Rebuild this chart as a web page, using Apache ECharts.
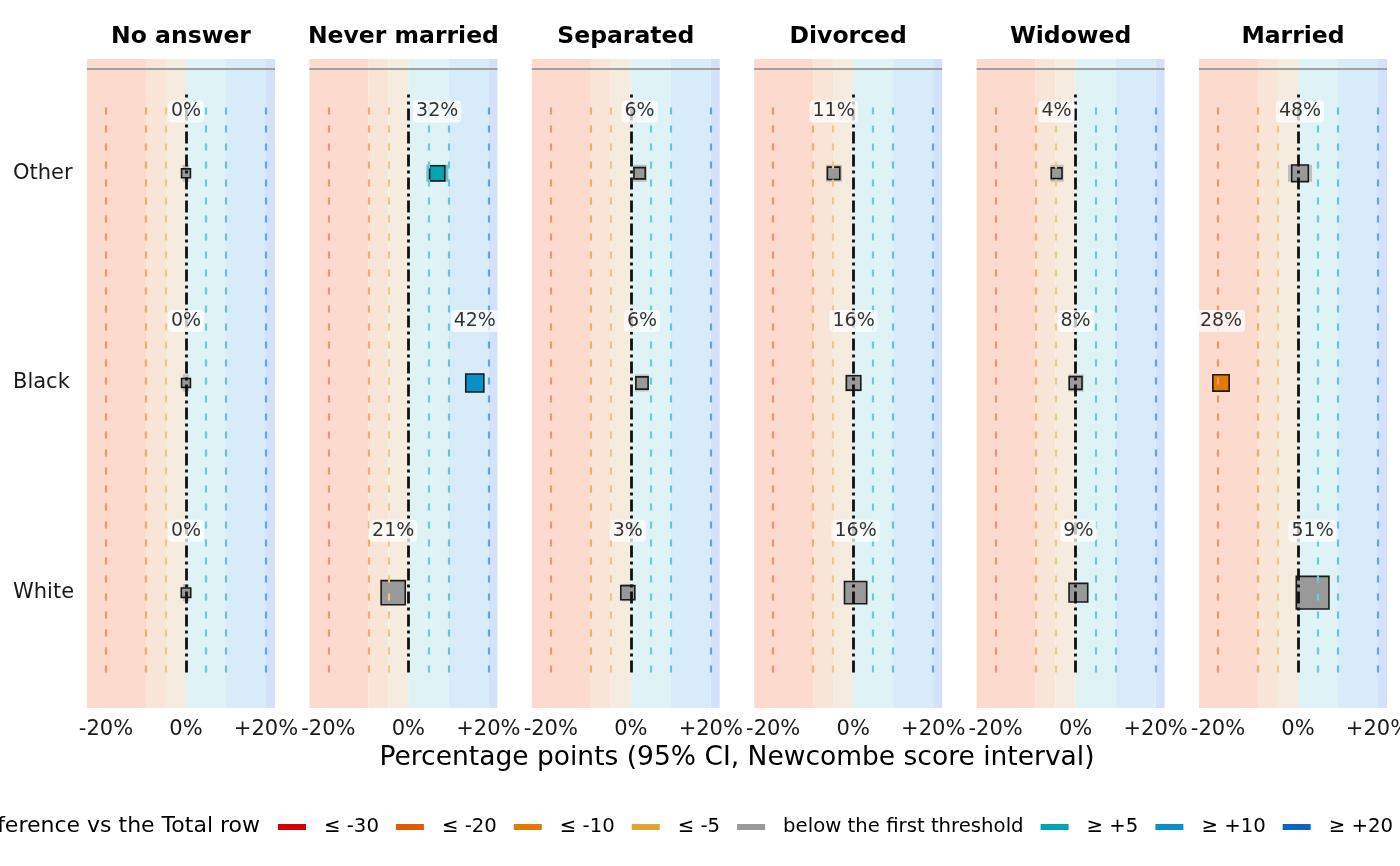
<!DOCTYPE html>
<html>
<head>
<meta charset="utf-8">
<title>Marital status by race</title>
<script src="https://cdn.jsdelivr.net/npm/echarts@6/dist/echarts.min.js"></script>
<style>
html,body{margin:0;padding:0;background:#fff;overflow:hidden;}
#chart{width:1400px;height:866px;display:block;}
</style>
</head>
<body>
<div id="chart"></div>
<script>
// facets and rows (rows listed bottom to top)
var panels = ['No answer','Never married','Separated','Divorced','Widowed','Married'];
var races = ['White','Black','Other'];

// share of the row in each cell, % (White, Black, Other)
var shareNoAnswer = [0,0,0];
var shareNever    = [21,42,32];
var shareSep      = [3,6,6];
var shareDiv      = [16,16,11];
var shareWid      = [9,8,4];
var shareMarried  = [51,28,48];

// difference vs the Total row, percentage points
var diffNoAnswer = [0,0,0];
var diffNever    = [-3.8,16.6,7.2];
var diffSep      = [-0.75,2.8,2.2];
var diffDiv      = [0.6,0.1,-4.9];
var diffWid      = [0.7,0,-4.75];
var diffMarried  = [3.65,-19.25,0.5];

// 95% CI bounds (Newcombe)
var ciLoNoAnswer = [-0.8,-0.8,-0.8], ciHiNoAnswer = [0.8,0.8,0.8];
var ciLoNever    = [-4.9,14.8,4.5],  ciHiNever    = [-2.9,18.4,10];
var ciLoSep      = [-2.2,1,0.5],     ciHiSep      = [0.7,4.5,4];
var ciLoDiv      = [-0.5,-2,-6.8],   ciHiDiv      = [1.6,2,-2.8];
var ciLoWid      = [0,-1.75,-6.25],  ciHiWid      = [1.4,2,-3];
var ciLoMarried  = [2.5,-21,-2.5],   ciHiMarried  = [4.8,-17.5,3.5];

// cell counts (marker size)
var nNoAnswer = [13,2,2];
var nNever    = [3478,1305,633];
var nSep      = [437,196,110];
var nDiv      = [2676,495,212];
var nWid      = [1475,262,70];
var nMarried  = [8316,869,932];

var xTicks = [-20,0,20];
var legendNames = ['\u2264 -30','\u2264 -20','\u2264 -10','\u2264 -5','below the first threshold','\u2265 +5','\u2265 +10','\u2265 +20'];
var legendColors = ['#d80000','#e05a00','#e07b00','#e0a432','#999999','#00a5ae','#0a8fc9','#0a66c2'];

var shares = [shareNoAnswer,shareNever,shareSep,shareDiv,shareWid,shareMarried];
var diffs  = [diffNoAnswer,diffNever,diffSep,diffDiv,diffWid,diffMarried];
var ciLo   = [ciLoNoAnswer,ciLoNever,ciLoSep,ciLoDiv,ciLoWid,ciLoMarried];
var ciHi   = [ciHiNoAnswer,ciHiNever,ciHiSep,ciHiDiv,ciHiWid,ciHiMarried];
var counts = [nNoAnswer,nNever,nSep,nDiv,nWid,nMarried];

var XMIN = -24.75, XMAX = 22.25;
var YMIN = -0.55, YMAX = 2.545;
var FONT = 'DejaVu Sans';

function colorFor(d){
	if(d<=-30) return legendColors[0];
	if(d<=-20) return legendColors[1];
	if(d<=-10) return legendColors[2];
	if(d<=-5) return legendColors[3];
	if(d>=20) return legendColors[7];
	if(d>=10) return legendColors[6];
	if(d>=5) return legendColors[5];
	return legendColors[4];
}
function sizeFor(n){ return 8.5+0.265*Math.sqrt(n); }
function fade(hex,a){
	var r=parseInt(hex.substr(1,2),16),g=parseInt(hex.substr(3,2),16),b=parseInt(hex.substr(5,2),16);
	return 'rgba('+r+','+g+','+b+','+a+')';
}

// background bands and threshold lines
var bands = [[XMIN,-10,'#fcdacd'],[-10,-5,'#f9e5d7'],[-5,0,'#f5ecdf'],[0,10,'#dff2f5'],[10,20,'#d7ebf8'],[20,XMAX,'#d3e2fa']];
var guides = [[-20,'#f0956a'],[-10,'#f0ac68'],[-5,'#efc784'],[5,'#66cdd8'],[10,'#66c1e2'],[20,'#62a4e2']];

var grids=[],xAxes=[],yAxes=[],series=[],graphics=[];

for(var i=0;i<panels.length;i++){
	var left = 87+i*222.4;
	grids.push({left:left,top:59,width:188,height:649,containLabel:false,outerBoundsMode:'none'});
	xAxes.push({
		gridIndex:i,type:'value',min:XMIN,max:XMAX,
		axisLine:{show:false},axisTick:{show:false},splitLine:{show:false},
		axisLabel:{customValues:xTicks,fontSize:21,color:'#1a1a1a',margin:11,fontFamily:FONT,
			formatter:function(v){return (v>0?'+':'')+v+'%';}}
	});
	yAxes.push({
		gridIndex:i,type:'value',min:YMIN,max:YMAX,
		axisLine:{show:false},axisTick:{show:false},splitLine:{show:false},
		axisLabel: i==0 ? {customValues:[0,1,2],align:'left',margin:74,fontSize:21,color:'#1a1a1a',fontFamily:FONT,
			formatter:function(v){return races[Math.round(v)];}} : {show:false}
	});

	var areaData = bands.map(function(b){
		return [{xAxis:b[0],itemStyle:{color:b[2]}},{xAxis:b[1]}];
	});
	series.push({type:'line',xAxisIndex:i,yAxisIndex:i,data:[],z:1,silent:true,
		markArea:{silent:true,data:areaData}});

	var lineData = guides.map(function(g){
		return [{coord:[g[0],-0.381],lineStyle:{color:g[1],width:2.2,type:[7,11]}},{coord:[g[0],2.352]}];
	});
	lineData.push([{coord:[0,-0.381],lineStyle:{color:'#111',width:2.8,type:[12,4,3,4]}},{coord:[0,2.376]}]);
	lineData.push([{coord:[XMIN,2.5],lineStyle:{color:'#a0a0a0',width:2,type:'solid'}},{coord:[XMAX,2.5]}]);
	series.push({type:'line',xAxisIndex:i,yAxisIndex:i,data:[],z:2,silent:true,
		markLine:{silent:true,symbol:['none','none'],label:{show:false},data:lineData}});

	// confidence intervals, markers and share labels
	var ciData=[],ptData=[],lblData=[];
	for(var r=0;r<races.length;r++){
		var c = colorFor(diffs[i][r]);
		ciData.push({value:[ciLo[i][r],ciHi[i][r],r],itemStyle:{color:fade(c,0.55)}});
		var s = sizeFor(counts[i][r]);
		ptData.push({value:[diffs[i][r],r],symbolSize:[s,s],itemStyle:{color:c}});
		lblData.push([diffs[i][r],r+0.295,shares[i][r]]);
	}
	series.push({type:'custom',xAxisIndex:i,yAxisIndex:i,z:3,silent:true,data:ciData,
		renderItem:function(params,api){
			var a = api.coord([api.value(0),api.value(2)]);
			var b = api.coord([api.value(1),api.value(2)]);
			return {type:'rect',shape:{x:a[0],y:a[1]-8.5,width:Math.max(b[0]-a[0],1),height:17},
				style:{fill:api.visual('color')}};
		}});
	series.push({type:'scatter',xAxisIndex:i,yAxisIndex:i,z:4,silent:true,symbol:'rect',data:ptData,
		itemStyle:{borderColor:'#1a1a1a',borderWidth:1.6,opacity:1}});
	series.push({type:'scatter',xAxisIndex:i,yAxisIndex:i,z:5,silent:true,symbolSize:1,data:lblData,
		itemStyle:{color:'rgba(0,0,0,0)'},
		label:{show:true,position:'inside',fontSize:19,color:'#000',fontFamily:FONT,
			backgroundColor:'rgba(255,255,255,0.92)',borderRadius:4,padding:[2,3,1,3],
			formatter:function(p){return p.value[2]+'%';}}});

	graphics.push({type:'text',x:left+94,y:37,
		style:{text:panels[i],font:'bold 23.5px "DejaVu Sans"',fill:'#000',textAlign:'center',textVerticalAlign:'middle'}});
}

// legend entries
for(var k=0;k<legendNames.length;k++){
	series.push({type:'line',name:legendNames[k],xAxisIndex:0,yAxisIndex:0,data:[],
		itemStyle:{color:legendColors[k]},lineStyle:{color:legendColors[k]}});
}

graphics.push({type:'text',x:737,y:758,
	style:{text:'Percentage points (95% CI, Newcombe score interval)',font:'26.5px "DejaVu Sans"',fill:'#000',textAlign:'center',textVerticalAlign:'middle'}});
graphics.push({type:'text',x:260,y:826,
	style:{text:'Difference vs the Total row',font:'22px "DejaVu Sans"',fill:'#000',textAlign:'right',textVerticalAlign:'middle'}});

var chart = echarts.init(document.getElementById('chart'));
chart.setOption({
	animation:false,
	textStyle:{fontFamily:FONT},
	grid:grids,
	xAxis:xAxes,
	yAxis:yAxes,
	legend:{left:278,top:817,width:1122,padding:0,icon:'rect',itemWidth:28,itemHeight:6,itemGap:17,selectedMode:false,
		data:legendNames,textStyle:{fontSize:19.7,color:'#000',fontFamily:FONT,padding:[0,0,0,13]}},
	graphic:graphics,
	series:series
});
</script>
</body>
</html>
